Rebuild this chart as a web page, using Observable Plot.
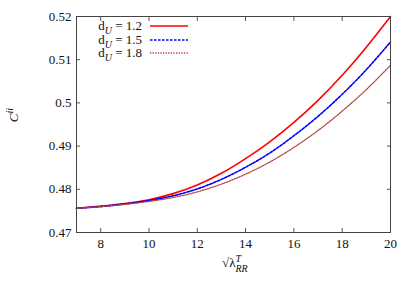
<!DOCTYPE html>
<html>
<head>
<meta charset="utf-8">
<script src="https://cdn.jsdelivr.net/npm/d3@7"></script>
<script src="https://cdn.jsdelivr.net/npm/@observablehq/plot@0.6"></script>
<style>
  html, body { margin: 0; padding: 0; background: #fff; }
  #wrap { position: relative; width: 415px; height: 291px; font-family: "Liberation Serif", "Times New Roman", Tinos, "DejaVu Serif", serif; color: #111; }
  #wrap svg, #wrap svg text { font-family: "Liberation Serif", "Times New Roman", Tinos, "DejaVu Serif", serif !important; font-size: 13px; }
  .ov { position: absolute; white-space: nowrap; font-size: 13px; line-height: 1; }
  .ov i { font-style: italic; }
  sub, sup { font-size: 10px; line-height: 0; }
  .stack { display: inline-block; vertical-align: middle; line-height: 1; font-size: 10px; font-style: italic; position: relative; top: 0px; }
  .stack span { display: block; }
</style>
</head>
<body>
<div id="wrap"></div>
<script>
const xs =      [7, 8, 9, 10, 11, 12, 13, 14, 15, 16, 17, 18, 19, 20];
const seriesA = [0.4756, 0.4761, 0.4767, 0.4776, 0.4790, 0.4810, 0.4837, 0.4871, 0.4910, 0.4955, 0.5006, 0.5064, 0.5129, 0.5200]; // dU = 1.2
const seriesB = [0.4756, 0.4760, 0.4766, 0.4774, 0.4785, 0.4801, 0.4823, 0.4851, 0.4884, 0.4924, 0.4969, 0.5020, 0.5077, 0.5141]; // dU = 1.5
const seriesC = [0.4756, 0.4760, 0.4765, 0.4772, 0.4781, 0.4794, 0.4812, 0.4835, 0.4863, 0.4897, 0.4936, 0.4981, 0.5031, 0.5087]; // dU = 1.8
const seriesNames = ["1.2", "1.5", "1.8"];
const xTicks = [8, 10, 12, 14, 16, 18, 20];
const yTicks = [0.47, 0.48, 0.49, 0.50, 0.51, 0.52];
const yTickLabels = ["0.47", "0.48", "0.49", "0.5", "0.51", "0.52"];

const colors = ["#ff0000", "#0000ff", "#b5443c"];
const dashes = [null, "2.5,1.5", "1.3,1.3"];
const widths = [1.6, 1.6, 1.3];

const allSeries = [seriesA, seriesB, seriesC];
const data = allSeries.flatMap((s, k) => s.map((v, i) => ({x: xs[i], y: v, k})));

const fmtY = d => yTickLabels[yTicks.findIndex(t => Math.abs(t - d) < 1e-9)];
const FONT = "'Liberation Serif', 'Times New Roman', Tinos, 'DejaVu Serif', serif";

const chart = Plot.plot({
  width: 415,
  height: 291,
  marginLeft: 76,
  marginRight: 25,
  marginTop: 16,
  marginBottom: 59,
  style: {fontFamily: FONT, fontSize: "13px", color: "#111", background: "white"},
  x: {domain: [7, 20]},
  y: {domain: [0.47, 0.52]},
  marks: [
    Plot.axisX({ticks: xTicks, tickSize: -4, tickPadding: 10, tickFormat: d => String(d), label: null, stroke: "#555", fontSize: 13, fontFamily: FONT}),
    Plot.axisX({anchor: "top", ticks: xTicks, tickSize: -4, tickFormat: () => "", label: null, stroke: "#555"}),
    Plot.axisY({ticks: yTicks, tickSize: -4, tickPadding: 9, tickFormat: fmtY, label: null, stroke: "#555", fontSize: 13, fontFamily: FONT}),
    Plot.axisY({anchor: "right", ticks: yTicks, tickSize: -4, tickFormat: () => "", label: null, stroke: "#555"}),
    ...allSeries.map((s, k) => Plot.line(data.filter(d => d.k === k), {
      x: "x", y: "y", stroke: colors[k], strokeWidth: widths[k],
      strokeDasharray: dashes[k], curve: "natural"
    })),
    Plot.frame({stroke: "#444", strokeWidth: 1})
  ]
});

const wrap = document.getElementById("wrap");
wrap.appendChild(chart);

// legend
seriesNames.forEach((n, k) => {
  const row = document.createElement("div");
  row.className = "ov";
  row.style.right = (415 - 142) + "px";
  row.style.top = (19 + k * 13.5) + "px";
  row.innerHTML = `d<sub><i>U</i></sub> = ${n}`;
  wrap.appendChild(row);
  const svgNS = "http://www.w3.org/2000/svg";
  const s = document.createElementNS(svgNS, "svg");
  s.setAttribute("width", 40); s.setAttribute("height", 6);
  s.style.position = "absolute"; s.style.left = "150px"; s.style.top = (23 + k * 13.5) + "px";
  const l = document.createElementNS(svgNS, "line");
  l.setAttribute("x1", 0); l.setAttribute("x2", 38); l.setAttribute("y1", 3); l.setAttribute("y2", 3);
  l.setAttribute("stroke", colors[k]); l.setAttribute("stroke-width", widths[k]);
  if (dashes[k]) l.setAttribute("stroke-dasharray", dashes[k]);
  s.appendChild(l);
  wrap.appendChild(s);
});

// y label
const yl = document.createElement("div");
yl.className = "ov";
yl.style.left = "4px"; yl.style.top = "108px";
yl.style.width = "20px"; yl.style.height = "14px";
yl.style.textAlign = "center";
yl.style.transform = "rotate(-90deg)";
yl.style.transformOrigin = "center";
yl.innerHTML = `<i>C</i><sup><i>ii</i></sup>`;
wrap.appendChild(yl);

// x label
const xl = document.createElement("div");
xl.className = "ov";
xl.style.left = "222px"; xl.style.top = "254px";
xl.innerHTML = `√λ<span class="stack"><span>T</span><span>RR</span></span>`;
wrap.appendChild(xl);
</script>
</body>
</html>
